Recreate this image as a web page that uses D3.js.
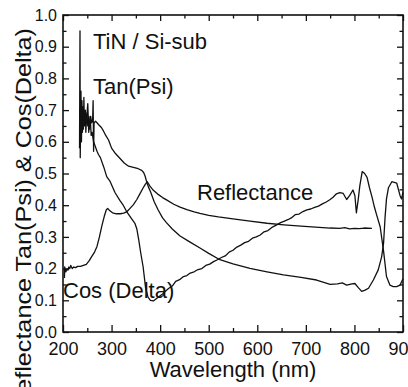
<!DOCTYPE html>
<html>
<head>
<meta charset="utf-8">
<script src="https://cdn.jsdelivr.net/npm/d3@7"></script>
<style>
  body { margin: 0; background: #fff; }
  svg { display: block; font-family: "Liberation Sans", Arial, sans-serif; }
  .axis text { fill: #111; }
</style>
</head>
<body>
<div class="chart"></div>
<script>
// wavelength (nm), value
const tanPsi = [
  [234, 0.58], [235, 0.95], [235.5, 0.55], [237, 0.76], [238, 0.60], [239, 0.73], [240, 0.63],
  [241, 0.71], [242, 0.64], [243, 0.74], [244, 0.65], [246, 0.70], [247, 0.63], [249, 0.69],
  [251, 0.65], [253, 0.68], [255, 0.64], [257, 0.68], [259, 0.66], [261, 0.67], [262, 0.73],
  [263, 0.57], [264, 0.66], [267, 0.665], [270, 0.66], [274, 0.653], [279, 0.645], [283, 0.635],
  [288, 0.62], [294, 0.605], [300, 0.58], [308, 0.563], [317, 0.548], [326, 0.533], [335, 0.523],
  [345, 0.519], [355, 0.515], [362, 0.51], [366, 0.503], [369, 0.492], [372, 0.475], [376, 0.457],
  [380, 0.443], [388, 0.41], [396, 0.385], [405, 0.36], [413, 0.345], [425, 0.325], [441, 0.303],
  [460, 0.285], [482, 0.265], [500, 0.248], [523, 0.228], [550, 0.215], [585, 0.201], [620, 0.19],
  [654, 0.18], [690, 0.172], [722, 0.164], [750, 0.150], [765, 0.152], [775, 0.155], [784, 0.148],
  [795, 0.152], [801, 0.153], [808, 0.14], [815, 0.128], [822, 0.132], [829, 0.138], [839, 0.164],
  [849, 0.196], [856, 0.237], [860, 0.28], [863, 0.36], [866, 0.42], [870, 0.455], [877, 0.474],
  [887, 0.47], [894, 0.43], [897, 0.42], [900, 0.44]
];

const reflectance = [
  [248, 0.66], [251, 0.72], [253, 0.63], [256, 0.68], [258, 0.62], [260, 0.63], [263, 0.60],
  [266.5, 0.585], [270, 0.57], [273, 0.56], [277, 0.55], [284, 0.52], [290, 0.49], [297, 0.475],
  [307, 0.44], [317, 0.415], [324, 0.40], [331, 0.38], [340, 0.36], [348, 0.343], [352, 0.325],
  [356, 0.29], [360, 0.25], [365, 0.205], [370, 0.14], [375, 0.11], [380, 0.10], [386, 0.098],
  [392, 0.105], [398, 0.112], [405, 0.12], [412, 0.13], [418, 0.138], [425, 0.145], [432, 0.16],
  [440, 0.165], [448, 0.175], [455, 0.178], [462, 0.186], [470, 0.19], [478, 0.197], [486, 0.2],
  [494, 0.21], [502, 0.214], [510, 0.222], [518, 0.228], [526, 0.235], [534, 0.24], [542, 0.252],
  [550, 0.258], [558, 0.268], [566, 0.274], [574, 0.282], [582, 0.286], [590, 0.296], [598, 0.3],
  [606, 0.306], [614, 0.316], [622, 0.32], [630, 0.33], [640, 0.338], [648, 0.345], [656, 0.35],
  [664, 0.355], [670, 0.36], [678, 0.37], [686, 0.372], [694, 0.38], [702, 0.385], [710, 0.388],
  [718, 0.393], [726, 0.397], [734, 0.404], [742, 0.41], [750, 0.418], [756, 0.425], [763, 0.436],
  [770, 0.44], [777, 0.437], [784, 0.418], [790, 0.43], [797, 0.448], [801, 0.43], [804, 0.376],
  [808, 0.42], [811, 0.46], [816, 0.506], [821, 0.5], [826, 0.488], [831, 0.455], [836, 0.427],
  [841, 0.395], [846, 0.368], [853, 0.332], [860, 0.255], [866, 0.175], [873, 0.148], [880, 0.143],
  [887, 0.143], [894, 0.148], [900, 0.168]
];

const cosDelta = [
  [203, 0.17], [203.5, 0.205], [206, 0.19], [208, 0.2], [210, 0.195], [212, 0.205], [214, 0.2],
  [216, 0.21], [219, 0.2], [222, 0.205], [226, 0.203], [230, 0.207], [236, 0.207], [242, 0.21],
  [248, 0.213], [254, 0.225], [260, 0.24], [265, 0.252], [270, 0.27], [275, 0.3], [280, 0.335],
  [285, 0.365], [289, 0.385], [292, 0.39], [296, 0.383], [302, 0.376], [310, 0.373], [318, 0.373],
  [325, 0.375], [332, 0.38], [338, 0.39], [345, 0.402], [352, 0.418], [358, 0.435], [364, 0.452],
  [369, 0.465], [373.5, 0.474], [379, 0.46], [386, 0.447], [395, 0.435], [405, 0.424], [414, 0.416],
  [428, 0.403], [441, 0.394], [455, 0.386], [470, 0.379], [482, 0.374], [500, 0.368], [520, 0.363],
  [550, 0.357], [585, 0.35], [620, 0.343], [655, 0.338], [690, 0.334], [720, 0.331], [750, 0.328],
  [770, 0.327], [780, 0.329], [790, 0.325], [800, 0.327], [810, 0.326], [820, 0.328], [836, 0.327]
];

const xTicks = [200, 300, 400, 500, 600, 700, 800, 900];
const xMinor = [250, 350, 450, 550, 650, 750, 850];
const yTicks = [0, 0.1, 0.2, 0.3, 0.4, 0.5, 0.6, 0.7, 0.8, 0.9, 1.0];
const yMinor = [0.05, 0.15, 0.25, 0.35, 0.45, 0.55, 0.65, 0.75, 0.85, 0.95];

const width = 408, height = 387;
const margin = ({top: 15, right: 5, bottom: 55, left: 63});

const svg = d3.select(".chart")
  .append("svg")
  .attr("width", width)
  .attr("height", height);

const xScale = d3.scaleLinear()
  .domain([200, 900])
  .range([margin.left, width - margin.right]);

const yScale = d3.scaleLinear()
  .domain([0, 1])
  .range([height - margin.bottom, margin.top]);

const x0 = margin.left, x1 = width - margin.right;
const y0 = height - margin.bottom, y1 = margin.top;

// axes with inward ticks
const bottom = svg.append("g")
  .attr("class", "axis")
  .attr("transform", `translate(0,${y0})`)
  .call(d3.axisBottom(xScale).tickValues(xTicks).tickSize(-7).tickPadding(10).tickFormat(d3.format("d")));
bottom.selectAll("text").attr("font-size", 18);

svg.append("g")
  .attr("class", "axis")
  .attr("transform", `translate(0,${y0})`)
  .call(d3.axisBottom(xScale).tickValues(xMinor).tickSize(-4).tickFormat(""));

svg.append("g")
  .attr("class", "axis")
  .attr("transform", `translate(0,${y1})`)
  .call(d3.axisTop(xScale).tickValues(xTicks).tickSize(-6).tickFormat(""));

svg.append("g")
  .attr("class", "axis")
  .attr("transform", `translate(0,${y1})`)
  .call(d3.axisTop(xScale).tickValues(xMinor).tickSize(-3.5).tickFormat(""));

const left = svg.append("g")
  .attr("class", "axis")
  .attr("transform", `translate(${x0},0)`)
  .call(d3.axisLeft(yScale).tickValues(yTicks).tickSize(-6).tickPadding(6).tickFormat(d3.format(".1f")));
left.selectAll("text").attr("font-size", 16);

svg.append("g")
  .attr("class", "axis")
  .attr("transform", `translate(${x0},0)`)
  .call(d3.axisLeft(yScale).tickValues(yMinor).tickSize(-3.5).tickFormat(""));

svg.append("g")
  .attr("class", "axis")
  .attr("transform", `translate(${x1},0)`)
  .call(d3.axisRight(yScale).tickValues(yTicks).tickSize(-6).tickFormat(""));

svg.append("g")
  .attr("class", "axis")
  .attr("transform", `translate(${x1},0)`)
  .call(d3.axisRight(yScale).tickValues(yMinor).tickSize(-3.5).tickFormat(""));

svg.selectAll(".axis .domain").remove();
svg.selectAll(".axis line").attr("stroke", "#111").attr("stroke-width", 1.3);

svg.append("rect")
  .attr("x", x0)
  .attr("y", y1)
  .attr("width", x1 - x0)
  .attr("height", y0 - y1)
  .attr("fill", "none")
  .attr("stroke", "#111")
  .attr("stroke-width", 1.6);

// curves
const line = d3.line()
  .x(d => xScale(d[0]))
  .y(d => yScale(d[1]));

[tanPsi, reflectance, cosDelta].forEach(s => {
  svg.append("path")
    .datum(s)
    .attr("fill", "none")
    .attr("stroke", "#111")
    .attr("stroke-width", 1.3)
    .attr("stroke-linejoin", "round")
    .attr("d", line);
});

// labels
svg.append("text")
  .attr("x", (x0 + x1) / 2)
  .attr("y", 377)
  .attr("text-anchor", "middle")
  .attr("font-size", 22)
  .attr("fill", "#111")
  .text("Wavelength (nm)");

svg.append("text")
  .attr("transform", "translate(31,28) rotate(-90)")
  .attr("text-anchor", "end")
  .attr("font-size", 22)
  .attr("textLength", 383)
  .attr("lengthAdjust", "spacingAndGlyphs")
  .attr("fill", "#111")
  .text("Reflectance Tan(Psi) & Cos(Delta)");

const notes = [
  {text: "TiN / Si-sub", x: 93, y: 49},
  {text: "Tan(Psi)", x: 93, y: 94},
  {text: "Reflectance", x: 197, y: 200},
  {text: "Cos (Delta)", x: 63, y: 298}
];

svg.selectAll(".note")
  .data(notes)
  .enter()
  .append("text")
  .attr("class", "note")
  .attr("x", d => d.x)
  .attr("y", d => d.y)
  .attr("font-size", 22)
  .attr("fill", "#111")
  .text(d => d.text);
</script>
</body>
</html>
